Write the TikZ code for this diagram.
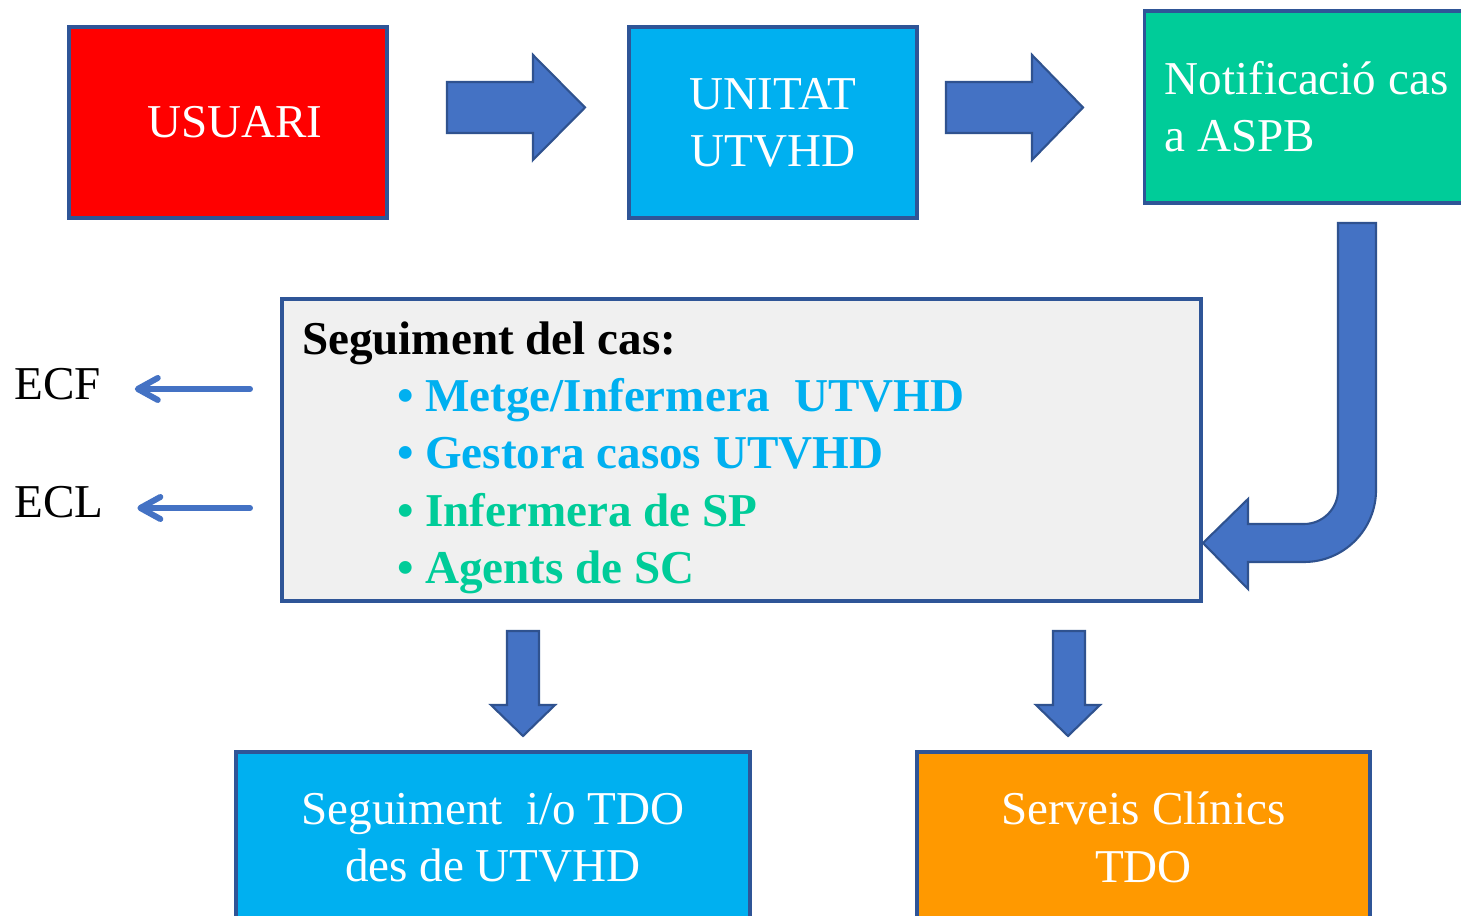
\documentclass[tikz,border=0pt]{standalone}
\usepackage{fontspec}
\setmainfont{Liberation Serif}
\usepackage{tikz}
\usetikzlibrary{arrows.meta}

\definecolor{usuarired}{HTML}{FF0000}
\definecolor{utvhdblue}{HTML}{00B0F0}
\definecolor{aspbgreen}{HTML}{00CC99}
\definecolor{tdoorange}{HTML}{FF9900}
\definecolor{panelgray}{HTML}{F0F0F0}
\definecolor{edgeblue}{HTML}{2F5597}
\definecolor{arrowfill}{HTML}{4472C4}
\definecolor{arrowedge}{HTML}{2F528F}

\tikzset{
  box/.style={draw=edgeblue, line width=0.9pt, text=white, align=center,
    font=\fontsize{13.4}{16.3}\selectfont, inner sep=0pt},
  blockarrow/.style={fill=arrowfill, draw=arrowedge, line width=0.6pt, line join=miter},
  thinarrow/.style={draw=arrowfill, line width=1.7pt, line cap=round,
    -{Straight Barb[length=2mm,width=2.2mm,round]}},
  lbl/.style={font=\fontsize{13.4}{16.3}\selectfont, inner sep=0pt}
}

\begin{document}
\begin{tikzpicture}

   \clip (0,0) rectangle (14.61,-9.16);
   \fill[white] (0,0) rectangle (14.61,-9.16);

   % top row
   \node[box, fill=usuarired, minimum width=3.18cm, minimum height=1.91cm] (usuari) at (2.28,-1.225) {\hspace*{0.14cm}USUARI};
   \node[box, fill=utvhdblue, minimum width=2.88cm, minimum height=1.91cm] (unitat) at (7.73,-1.225) {UNITAT\\UTVHD};
   \node[box, fill=aspbgreen, anchor=west, minimum height=1.92cm, text width=3.2cm, align=flush left,
         inner xsep=0.2cm] (notif) at (11.43,-1.07) {Notificació cas\\a ASPB};

   % panel
   \node[box, fill=panelgray, text=black, minimum width=9.19cm, minimum height=3.02cm,
         text width=8.79cm, align=flush left, inner xsep=0.2cm] (seguiment) at (7.415,-4.50)
     {\rule{0pt}{0.48cm}\textbf{Seguiment del cas:}\\
      \hspace*{0.95cm}\textcolor{utvhdblue}{\textbf{• Metge/Infermera\ \ UTVHD}}\\
      \hspace*{0.95cm}\textcolor{utvhdblue}{\textbf{• Gestora casos UTVHD}}\\
      \hspace*{0.95cm}\textcolor{aspbgreen}{\textbf{• Infermera de SP}}\\
      \hspace*{0.95cm}\textcolor{aspbgreen}{\textbf{• Agents de SC}}};

   % bottom row
   \node[box, fill=utvhdblue, minimum width=5.14cm, minimum height=1.71cm] (tdoutvhd) at (4.93,-8.375) {Seguiment\ \ i/o TDO\\des de UTVHD};
   \node[box, fill=tdoorange, minimum width=4.53cm, minimum height=1.71cm] (clinics) at (11.435,-8.375) {Serveis Clínics\\TDO};

   % side labels
   \node[lbl, anchor=base west] (ecf) at (0.14,-4.00) {ECF};
   \node[lbl, anchor=base west] (ecl) at (0.14,-5.18) {ECL};
   \coordinate (ecfstart) at (2.50,-3.89);
   \coordinate (eclstart) at (2.50,-5.08);
   \draw[thinarrow, shorten >=0.33cm] (ecfstart) -- (ecfstart -| ecf.east);
   \draw[thinarrow, shorten >=0.33cm] (eclstart) -- (eclstart -| ecl.east);

   % block arrows
   \filldraw[blockarrow] (4.47,-0.82) -- (5.33,-0.82) -- (5.33,-0.55) -- (5.85,-1.075)
      -- (5.33,-1.60) -- (5.33,-1.33) -- (4.47,-1.33) -- cycle;
   \filldraw[blockarrow] (9.46,-0.82) -- (10.32,-0.82) -- (10.32,-0.55) -- (10.83,-1.075)
      -- (10.32,-1.60) -- (10.32,-1.33) -- (9.46,-1.33) -- cycle;

   \filldraw[blockarrow] (5.07,-6.31) -- (5.39,-6.31) -- (5.39,-7.05) -- (5.55,-7.05)
      -- (5.23,-7.36) -- (4.91,-7.05) -- (5.07,-7.05) -- cycle;
   \filldraw[blockarrow] (10.53,-6.31) -- (10.85,-6.31) -- (10.85,-7.05) -- (11.00,-7.05)
      -- (10.68,-7.36) -- (10.36,-7.05) -- (10.53,-7.05) -- cycle;

   \filldraw[blockarrow] (13.38,-2.23) -- (13.76,-2.23) -- (13.76,-4.90)
      arc[start angle=0, end angle=-90, radius=0.72] -- (12.48,-5.62) -- (12.48,-5.89)
      -- (12.03,-5.43) -- (12.48,-4.99) -- (12.48,-5.24) -- (13.04,-5.24)
      arc[start angle=-90, end angle=0, radius=0.34] -- cycle;

\end{tikzpicture}
\end{document}
